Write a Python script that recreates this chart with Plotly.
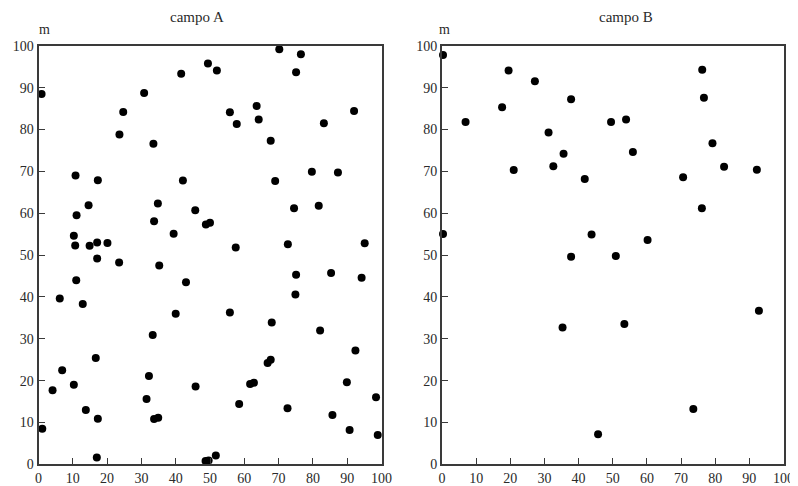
import plotly.graph_objects as go

# ---- data: campo A ----
campo_a_x = [0.9, 24.7, 30.8, 23.6, 33.5, 41.6, 49.4, 52.0, 55.8, 57.8, 63.6, 64.2, 67.7, 70.2, 75.1, 76.5, 83.2, 92.0,
             10.8, 17.3, 14.6, 11.1, 10.3, 10.7, 14.9, 17.1, 20.1, 17.1, 23.5, 11.0, 6.2, 12.9,
             33.7, 34.8, 42.1, 45.7, 48.8, 50.0, 39.4, 35.2, 43.0, 57.5, 69.0, 74.5, 79.7, 81.7, 87.3,
             72.7, 75.1, 85.3, 94.2, 95.1, 74.9,
             40.0, 55.8, 68.0, 82.1, 33.3, 92.4, 16.7, 66.8, 67.7, 6.9, 32.2, 4.1, 10.3, 45.8, 61.7, 62.8, 89.9,
             31.5, 98.4, 58.5, 72.6, 13.8, 85.7, 17.3, 33.7, 34.9, 1.1, 90.7, 98.9, 17.0, 48.7, 49.6, 51.7]
campo_a_y = [88.5, 84.2, 88.7, 78.8, 76.6, 93.3, 95.8, 94.1, 84.1, 81.3, 85.6, 82.4, 77.3, 99.2, 93.7, 98.0, 81.5, 84.4,
             69.0, 67.9, 61.9, 59.5, 54.6, 52.3, 52.2, 53.0, 52.9, 49.2, 48.2, 44.0, 39.6, 38.3,
             58.1, 62.3, 67.8, 60.7, 57.3, 57.7, 55.1, 47.5, 43.5, 51.8, 67.7, 61.2, 69.9, 61.8, 69.7,
             52.6, 45.3, 45.7, 44.6, 52.8, 40.6,
             36.0, 36.3, 33.9, 32.0, 30.9, 27.2, 25.4, 24.2, 25.0, 22.5, 21.1, 17.7, 19.0, 18.6, 19.2, 19.5, 19.6,
             15.6, 16.0, 14.4, 13.4, 13.0, 11.8, 10.9, 10.8, 11.1, 8.5, 8.2, 7.0, 1.6, 0.8, 0.9, 2.1]

# ---- data: campo B ----
campo_b_x = [6.9, 17.6, 19.5, 27.2, 31.2, 37.8, 35.6, 49.5, 53.9, 55.9, 76.2, 76.7, 79.2, 0.3, 0.3,
             21.0, 32.6, 41.8, 70.6, 82.6, 92.2, 76.1, 43.8, 60.2, 37.8, 50.9, 92.8,
             35.3, 53.4, 45.7, 73.6]
campo_b_y = [81.8, 85.3, 94.1, 91.5, 79.3, 87.2, 74.2, 81.8, 82.4, 74.6, 94.3, 87.6, 76.7, 97.8, 55.0,
             70.3, 71.2, 68.2, 68.6, 71.1, 70.4, 61.2, 54.9, 53.6, 49.6, 49.8, 36.7,
             32.7, 33.5, 7.2, 13.2]

tick_vals = [0, 10, 20, 30, 40, 50, 60, 70, 80, 90, 100]
tick_text = [str(v) for v in tick_vals]
panel_titles = ["campo A", "campo B"]
unit_label = "m"

# page body has an 8px margin: the figure starts at (8, 8) in the window
OFF = 8
W, H = 798 - OFF, 486 - OFF
FONT = "Liberation Serif"
INK = "#2a2a2a"

def fx(px):
    return (px - OFF) / W

def fy(py):
    return 1 - (py - OFF) / H

ax_common = dict(
    range=[0, 100], tickvals=tick_vals, ticktext=tick_text, showgrid=False, zeroline=False,
    showline=True, mirror=True, linecolor="#3a3a3a", linewidth=2,
    ticks="inside", ticklen=6, tickcolor="#3a3a3a", tickwidth=1.2,
    tickfont=dict(family=FONT, size=14, color=INK), fixedrange=True, automargin=False,
)

fig = go.Figure()
marker = dict(color="black", size=8, line=dict(width=0))
fig.add_trace(go.Scatter(x=campo_a_x, y=campo_a_y, mode="markers", marker=marker,
                         xaxis="x", yaxis="y", cliponaxis=False, showlegend=False))
fig.add_trace(go.Scatter(x=campo_b_x, y=campo_b_y, mode="markers", marker=marker,
                         xaxis="x2", yaxis="y2", cliponaxis=False, showlegend=False))

ydom = [fy(464.3), fy(45.8)]
title_font = dict(family=FONT, size=15, color=INK)
ann_font = dict(family=FONT, size=14, color=INK)
fig.update_layout(
    width=W, height=H,
    margin=dict(l=0, r=0, t=0, b=0, pad=0, autoexpand=False),
    paper_bgcolor="white", plot_bgcolor="white",
    xaxis=dict(domain=[fx(38.5), fx(381.5)], anchor="y", **ax_common),
    yaxis=dict(domain=ydom, anchor="x", **ax_common),
    xaxis2=dict(domain=[fx(442.0), fx(783.5)], anchor="y2", **ax_common),
    yaxis2=dict(domain=ydom, anchor="x2", **ax_common),
    annotations=[
        dict(text=panel_titles[0], x=fx(197), y=fy(17), xref="paper", yref="paper",
             xanchor="center", yanchor="middle", showarrow=False, font=title_font),
        dict(text=panel_titles[1], x=fx(626), y=fy(17), xref="paper", yref="paper",
             xanchor="center", yanchor="middle", showarrow=False, font=title_font),
        dict(text=unit_label, x=fx(44), y=fy(30), xref="paper", yref="paper",
             xanchor="center", yanchor="middle", showarrow=False, font=ann_font),
        dict(text=unit_label, x=fx(445), y=fy(30), xref="paper", yref="paper",
             xanchor="center", yanchor="middle", showarrow=False, font=ann_font),
    ],
)

fig.write_html("out.html")
